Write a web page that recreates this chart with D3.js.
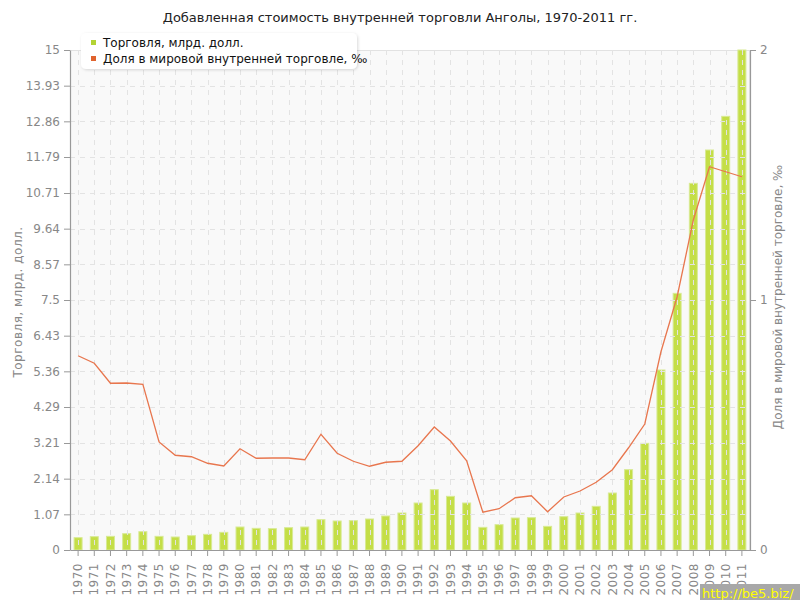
<!DOCTYPE html>
<html><head><meta charset="utf-8">
<script src="https://cdn.jsdelivr.net/npm/d3@7"></script>
<style>
body{margin:0;background:#fff;}
text{font-family:"DejaVu Sans",Verdana,sans-serif;}
</style></head>
<body>
<svg id="chart" width="800" height="600"></svg>
<script>
const years = [1970,1971,1972,1973,1974,1975,1976,1977,1978,1979,1980,1981,1982,1983,1984,1985,1986,1987,1988,1989,1990,1991,1992,1993,1994,1995,1996,1997,1998,1999,2000,2001,2002,2003,2004,2005,2006,2007,2008,2009,2010,2011];
const trade = [0.37,0.40,0.41,0.49,0.55,0.41,0.39,0.43,0.47,0.53,0.69,0.65,0.64,0.67,0.69,0.91,0.87,0.88,0.93,1.02,1.11,1.41,1.81,1.61,1.41,0.68,0.76,0.96,0.97,0.71,1.00,1.11,1.31,1.71,2.41,3.20,5.40,7.70,11.00,12.00,13.01,15.0];
const share = [0.777,0.747,0.667,0.668,0.663,0.432,0.379,0.373,0.347,0.336,0.405,0.367,0.368,0.368,0.361,0.463,0.387,0.355,0.335,0.351,0.355,0.417,0.492,0.436,0.357,0.151,0.165,0.209,0.217,0.153,0.212,0.236,0.271,0.321,0.409,0.504,0.793,1.013,1.32,1.533,1.513,1.493];
const leftTicks = [0,1.07,2.14,3.21,4.29,5.36,6.43,7.5,8.57,9.64,10.71,11.79,12.86,13.93,15];
const rightTicks = [0,1,2];
const title = "Добавленная стоимость внутренней торговли Анголы, 1970-2011 гг.";
const leftLabel = "Торговля, млрд. долл.";
const rightLabel = "Доля в мировой внутренней торговле, ‰";
const legendItems = ["Торговля, млрд. долл.","Доля в мировой внутренней торговле, ‰"];

const svg = d3.select("#chart");
const L=70,R=750,T=50,B=550;
const x = d3.scaleBand().domain(years).range([L,R]).padding(0);
const yL = d3.scaleLinear().domain([0,15]).range([B,T]);
const yR = d3.scaleLinear().domain([0,2]).range([B,T]);
const cx = d => x(d)+x.bandwidth()/2;

svg.append("rect").attr("x",0).attr("y",0).attr("width",800).attr("height",600).attr("fill","#fff");
svg.append("text").attr("x",400).attr("y",22).attr("text-anchor","middle")
  .attr("font-size",13).attr("fill","#222").text(title);

// plot background
svg.append("rect").attr("x",L).attr("y",T).attr("width",R-L).attr("height",B-T).attr("fill","#f9f9f9");
svg.append("line").attr("x1",L).attr("x2",R).attr("y1",T+0.5).attr("y2",T+0.5).attr("stroke","#e2e2e2");

// bars
svg.append("g").selectAll("rect").data(years).join("rect")
  .attr("x",(d)=>cx(d)-4).attr("width",8)
  .attr("y",(d,i)=>yL(trade[i])).attr("height",(d,i)=>B-yL(trade[i]))
  .attr("fill","#c4de47").attr("stroke","#d8ea94").attr("stroke-width",1);

// grid
const grid = svg.append("g").attr("stroke","#e3e3e3").attr("stroke-dasharray","5,5").attr("stroke-width",1);
leftTicks.slice(1,-1).forEach(t=>{
  grid.append("line").attr("x1",L).attr("x2",R).attr("y1",Math.round(yL(t))+0.5).attr("y2",Math.round(yL(t))+0.5);
});
years.forEach(yv=>{
  grid.append("line").attr("x1",Math.round(cx(yv))+0.5).attr("x2",Math.round(cx(yv))+0.5).attr("y1",T).attr("y2",B);
});
svg.append("line").attr("x1",R-0.5).attr("x2",R-0.5).attr("y1",T).attr("y2",B).attr("stroke","#e2e2e2");

// line
const line = d3.line().x((d,i)=>cx(years[i])).y(d=>yR(d));
svg.append("path").datum(share).attr("d",line).attr("fill","none")
  .attr("stroke","#e8764e").attr("stroke-width",1.3);

// axes
const axL = svg.append("g").attr("transform",`translate(${L},0)`)
  .call(d3.axisLeft(yL).tickValues(leftTicks).tickFormat(d=>d).tickSize(6).tickSizeOuter(0));
const axR = svg.append("g").attr("transform",`translate(${R},0)`)
  .call(d3.axisRight(yR).tickValues(rightTicks).tickFormat(d=>d).tickSize(6).tickSizeOuter(0));
const axB = svg.append("g").attr("transform",`translate(0,${B})`)
  .call(d3.axisBottom(x).tickSize(6).tickSizeOuter(0));
[axL,axR,axB].forEach(a=>{
  a.select(".domain").attr("stroke","#999").attr("stroke-width",1.2);
  a.selectAll(".tick line").attr("stroke","#999");
  a.selectAll("text").attr("fill","#888").attr("font-size",12).attr("font-family","DejaVu Sans, Verdana, sans-serif");
});
axL.selectAll("text").attr("x",-10);
axR.selectAll("text").attr("x",10);
axB.selectAll("text").attr("transform","rotate(-90)").attr("text-anchor","end")
  .attr("x",-13).attr("y",0).attr("dy","0.35em").attr("letter-spacing",0.5);

// axis labels
svg.append("text").attr("transform","translate(22,302) rotate(-90)").attr("text-anchor","middle")
  .attr("font-size",12).attr("fill","#888").attr("letter-spacing",0.5).text(leftLabel);
svg.append("text").attr("transform","translate(782,297) rotate(-90)").attr("text-anchor","middle")
  .attr("font-size",12).attr("fill","#888").text(rightLabel);

// legend
const defs = svg.append("defs");
const f = defs.append("filter").attr("id","sh").attr("x","-10%").attr("y","-20%").attr("width","120%").attr("height","150%");
f.append("feDropShadow").attr("dx",1).attr("dy",1).attr("stdDeviation",1.5).attr("flood-color","#000").attr("flood-opacity",0.15);
svg.append("rect").attr("x",81).attr("y",33).attr("width",276).attr("height",36).attr("rx",5)
  .attr("fill","#fff").attr("filter","url(#sh)");
const legColors = ["#b3d334","#e0632e"];
legendItems.forEach((t,i)=>{
  svg.append("rect").attr("x",91).attr("y",40+i*16).attr("width",5).attr("height",5).attr("fill",legColors[i]);
  svg.append("text").attr("x",103).attr("y",47+i*16).attr("font-size",12).attr("fill","#111").text(t);
});

// watermark
svg.append("rect").attr("x",700).attr("y",584).attr("width",100).attr("height",16).attr("fill","#a8a8a8");
svg.append("text").attr("x",702).attr("y",598).attr("font-size",13).attr("fill","#ffff00").text("http://be5.biz/");
</script>
</body></html>
